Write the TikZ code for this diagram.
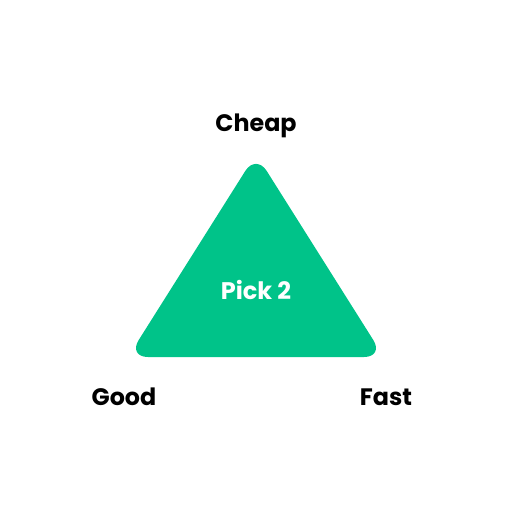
\documentclass[tikz,border=0pt]{standalone}
\usepackage{fontspec}
\setmainfont{Poppins}[BoldFont=* Bold]
\definecolor{tri}{HTML}{00C389}
\begin{document}
\begin{tikzpicture}[x=1pt,y=-1pt,
  lbl/.style={font=\fontsize{23.8}{26}\selectfont\bfseries, text=black, inner sep=0pt, anchor=base},
  pick/.style={font=\fontsize{24}{26}\selectfont\bfseries, text=white, inner sep=0pt, anchor=base}]
\useasboundingbox (0,0) rectangle (512,512);
\coordinate (A) at (256,154);
\coordinate (B) at (128,357);
\coordinate (C) at (384,357);
\fill[tri, rounded corners=20pt] (A) -- (C) -- (B) -- cycle;
\node[pick] (p) at (256,299) {Pick 2};
\node[lbl] (cheap) at (256,131) {Cheap};
\node[lbl] (good) at (124,405) {Good};
\node[lbl] (fast) at (386,405) {Fast};
\end{tikzpicture}
\end{document}
